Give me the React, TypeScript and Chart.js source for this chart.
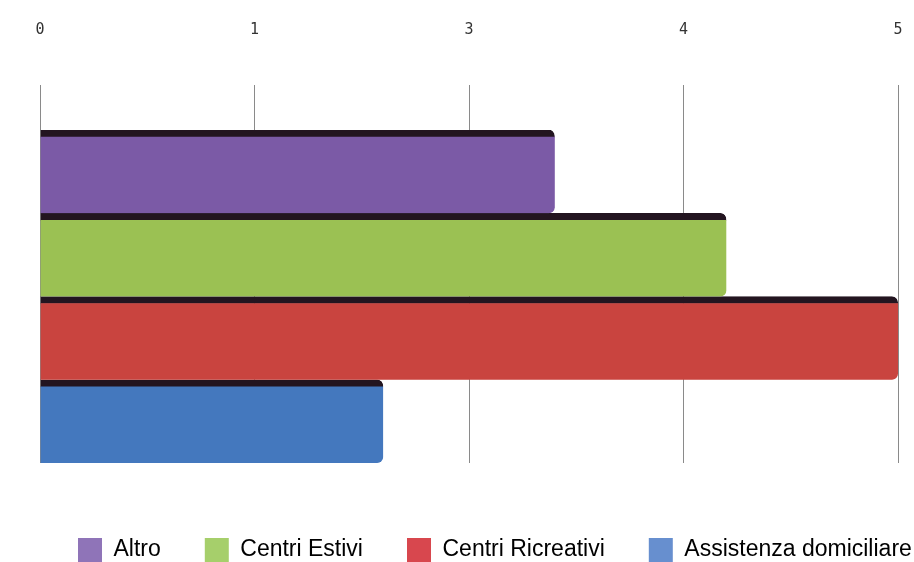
import { useEffect, useRef } from 'react';
import { Chart, registerables } from 'chart.js';

Chart.register(...registerables);

const categories = [''];
const seriesNames = ['Altro', 'Centri Estivi', 'Centri Ricreativi', 'Assistenza domiciliare'];
const seriesValues = [3, 4, 5, 2];
const barColors = ['#7B5AA6', '#9BC153', '#C9443F', '#4478BE'];
const legendColors = ['#8F74B8', '#A6CF6B', '#D8474E', '#678FCF'];
const axisMin = 0;
const axisMax = 5;
const axisStep = 1.25;

const TICK_PAD = 46;
const LEGEND_DX = -6;
const LEGEND_DY = 31;

const legendTweaks = {
  id: 'legendTweaks',
  beforeLayout(chart: any) {
    const lg = chart.legend;
    if (lg && !lg.__wide) {
      const orig = lg.fit;
      lg.fit = function () {
        this.maxWidth = 3000;
        orig.call(this);
      };
      lg.__wide = true;
    }
  },
  afterLayout(chart: any) {
    const l = chart.legend;
    if (l) {
      l.left += LEGEND_DX;
      l.right += 2000;
      l.top += LEGEND_DY;
      l.bottom += LEGEND_DY;
    }
  },
};

export default function App() {
  const ref = useRef<HTMLCanvasElement | null>(null);

  useEffect(() => {
    if (!ref.current) return;
    const chart = new Chart(ref.current, {
      type: 'bar',
      data: {
        labels: categories,
        datasets: seriesNames.map((name, i) => ({
          label: name,
          data: [seriesValues[i]],
          backgroundColor: barColors[i],
          borderColor: '#231520',
          borderWidth: { top: 7, right: 0, bottom: 0, left: 0 },
          borderSkipped: false,
          borderRadius: { topRight: 6, bottomRight: 6, topLeft: 0, bottomLeft: 0 },
          barPercentage: 1,
          categoryPercentage: 1,
        })),
      },
      options: {
        indexAxis: 'y',
        responsive: false,
        animation: false,
        layout: { padding: { top: 21, left: 40, right: 16, bottom: 21 } },
        scales: {
          x: {
            position: 'top',
            min: axisMin,
            max: axisMax,
            border: { display: false },
            grid: { color: '#8a8a8a', lineWidth: 1, tickLength: 45, tickColor: '#8a8a8a' },
            ticks: {
              stepSize: axisStep,
              padding: TICK_PAD,
              color: '#333',
              font: { family: '"DejaVu Sans Mono", monospace', size: 15 },
              callback: (v: any) => String(Math.round(Number(v))),
            },
            afterFit: (scale: any) => {
              scale.height -= TICK_PAD;
              scale.paddingLeft = 0;
              scale.paddingRight = 0;
            },
          },
          y: { display: false },
        },
        plugins: {
          tooltip: { enabled: false },
          legend: {
            position: 'bottom',
            align: 'start',
            labels: {
              boxWidth: 24,
              boxHeight: 24,
              padding: 44,
              color: '#222',
              font: { family: '"Liberation Sans", Arial, sans-serif', size: 23 },
              generateLabels: (c: any) =>
                seriesNames.map((name, i) => ({
                  text: name,
                  fillStyle: legendColors[i],
                  strokeStyle: legendColors[i],
                  lineWidth: 0,
                  hidden: !c.isDatasetVisible(i),
                  datasetIndex: i,
                })),
            },
          },
        },
      },
      plugins: [legendTweaks],
    });
    return () => chart.destroy();
  }, []);

  return (
    <div style={{ position: 'fixed', left: 0, top: 0, width: 914, height: 562, background: '#fff' }}>
      <canvas ref={ref} width={914} height={562} style={{ display: 'block' }} />
    </div>
  );
}
